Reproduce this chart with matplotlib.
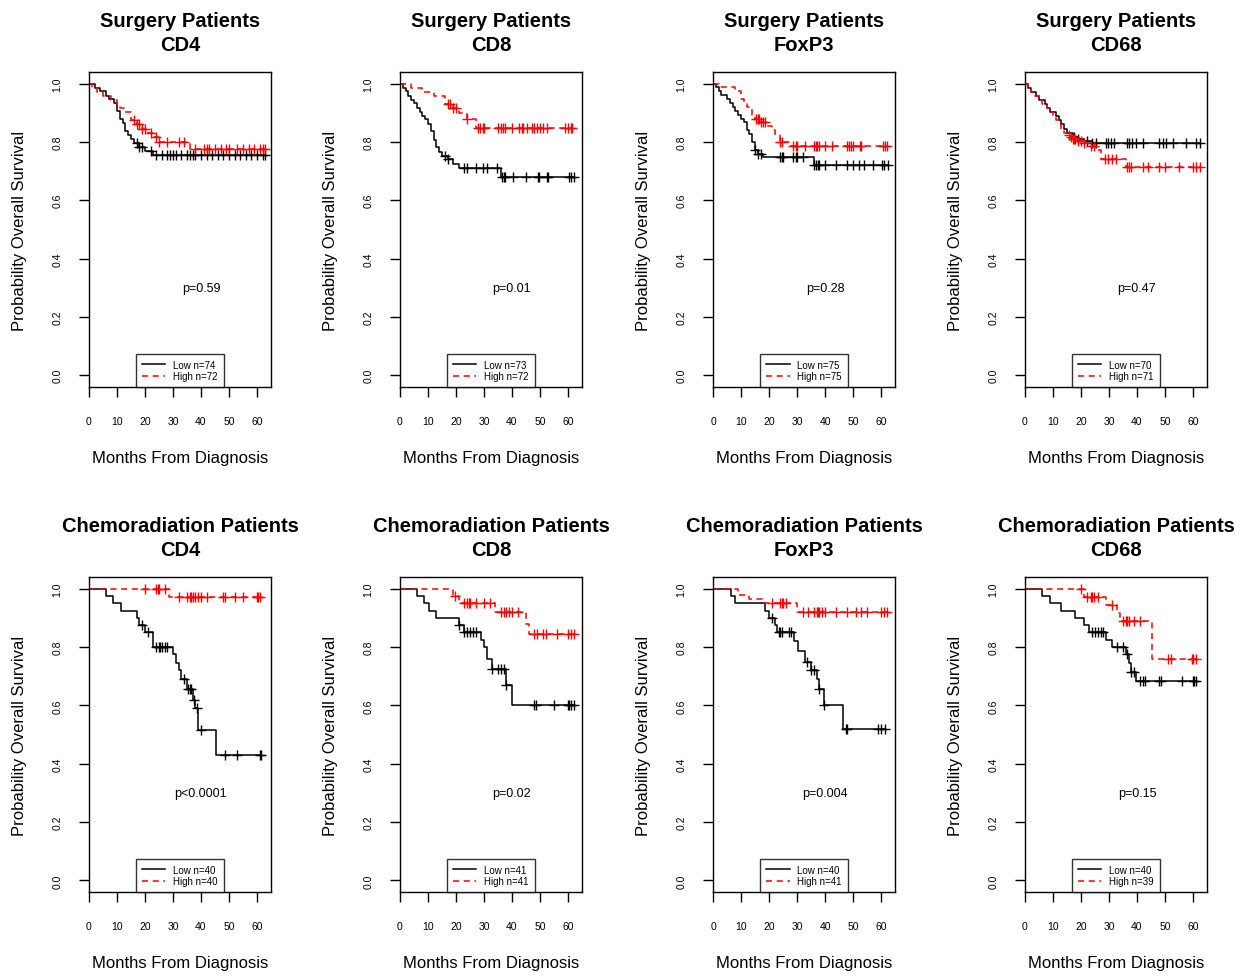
import numpy as np
import matplotlib.pyplot as plt

plt.rcParams["font.family"] = ["Liberation Sans", "DejaVu Sans"]

# ---- data (months, survival probability) ----
# Surgery CD4
s_cd4_low_t = [2, 4, 6, 7, 9, 10, 11, 12, 13, 14, 15, 16, 18, 20, 23]
s_cd4_low_s = [0.986, 0.973, 0.959, 0.946, 0.932, 0.905, 0.878, 0.865, 0.838, 0.824, 0.811, 0.797, 0.783, 0.770, 0.756]
s_cd4_low_c = [17, 18, 19, 22, 24, 26, 28, 29, 30, 31, 33, 35, 36, 37, 38, 40, 42, 44, 46, 48, 50, 52, 54, 56, 58, 60, 62, 63]
s_cd4_high_t = [1, 3, 5, 8, 10, 11, 13, 15, 17, 19, 21, 23, 25, 36]
s_cd4_high_s = [0.986, 0.972, 0.958, 0.944, 0.930, 0.916, 0.902, 0.874, 0.860, 0.846, 0.832, 0.818, 0.800, 0.776]
s_cd4_high_c = [16, 17, 18, 19, 20, 22, 24, 25, 28, 32, 34, 38, 41, 42, 43, 45, 47, 49, 50, 53, 55, 57, 59, 61, 62, 63]

# Surgery CD8
s_cd8_low_t = [1, 2, 3, 4, 5, 6, 7, 8, 9, 10, 11, 12, 13, 14, 15, 17, 19, 21, 36]
s_cd8_low_s = [0.986, 0.973, 0.959, 0.945, 0.932, 0.918, 0.904, 0.890, 0.877, 0.863, 0.836, 0.808, 0.781, 0.767, 0.753, 0.740, 0.726, 0.712, 0.680]
s_cd8_low_c = [16, 17, 23, 24, 27, 29.5, 31, 34.5, 36.5, 37, 37.5, 40.5, 45, 49.3, 49.8, 52.5, 53, 60.3, 61, 62]
s_cd8_high_t = [4, 8, 12, 16, 19, 21, 24, 27]
s_cd8_high_s = [0.986, 0.972, 0.958, 0.930, 0.915, 0.900, 0.877, 0.848]
s_cd8_high_c = [17, 17.8, 19, 20, 24, 28, 28.7, 29.5, 30, 35, 36, 36.7, 37.5, 40, 42.5, 43.5, 44, 45.5, 47, 48, 49, 50, 51, 52.5, 59, 60, 61, 61.5]

# Surgery FoxP3
s_fox_low_t = [1, 2, 3, 5, 6, 7, 8, 9, 10, 11, 12, 13, 14, 15, 16, 18, 36]
s_fox_low_s = [0.987, 0.973, 0.960, 0.947, 0.933, 0.920, 0.907, 0.893, 0.880, 0.867, 0.840, 0.827, 0.800, 0.773, 0.760, 0.747, 0.720]
s_fox_low_c = [15, 16, 17, 24, 24.5, 25, 28.5, 29.5, 30, 32, 36, 36.7, 37.3, 38, 40, 44, 48, 50, 52, 54, 57, 60.5, 61.2, 62.5]
s_fox_high_t = [2, 8, 10, 11, 12, 14, 15, 17, 19, 21, 22, 24, 27]
s_fox_high_s = [0.987, 0.973, 0.947, 0.933, 0.920, 0.893, 0.880, 0.867, 0.853, 0.840, 0.827, 0.800, 0.787]
s_fox_high_c = [15.5, 16, 16.5, 17, 18, 18.5, 24, 24.5, 28.5, 29.5, 30, 33, 36, 36.6, 37.2, 38, 40, 42.6, 48, 48.7, 49.4, 50, 52.5, 53, 60.6, 61.3, 62]

# Surgery CD68
s_c68_low_t = [1, 2, 4, 5, 7, 8, 9, 11, 12, 13, 14, 15, 17, 19, 21, 24]
s_c68_low_s = [0.986, 0.972, 0.958, 0.944, 0.930, 0.916, 0.902, 0.888, 0.874, 0.860, 0.846, 0.832, 0.818, 0.811, 0.804, 0.797]
s_c68_low_c = [17.5, 19, 22, 24, 25.2, 28.8, 29.5, 30.6, 31.8, 36.6, 37.2, 38.4, 39.6, 42, 48, 49.2, 50.4, 52.8, 57.6, 61.2, 62.4]
s_c68_high_t = [1, 2, 3, 5, 6, 8, 9, 10, 11, 12, 13, 14, 15, 16, 17, 19, 21, 23, 25, 27, 36]
s_c68_high_s = [0.986, 0.972, 0.958, 0.944, 0.930, 0.916, 0.902, 0.888, 0.874, 0.860, 0.846, 0.832, 0.825, 0.818, 0.811, 0.804, 0.797, 0.786, 0.772, 0.743, 0.715]
s_c68_high_c = [15.6, 16.3, 17, 17.5, 18, 19, 20, 21, 23.5, 24.5, 28.5, 29.5, 31, 32.5, 36.5, 37.3, 38, 42, 44, 48, 50, 55, 60, 61, 62.5]

# Chemoradiation CD4
c_cd4_low_t = [6, 8.5, 11.5, 17, 18, 20, 23, 30, 31, 32, 33, 35, 37, 38, 39, 45.5]
c_cd4_low_s = [0.975, 0.950, 0.925, 0.900, 0.875, 0.850, 0.800, 0.775, 0.745, 0.720, 0.690, 0.655, 0.620, 0.590, 0.515, 0.430]
c_cd4_low_c = [19, 21, 24, 25, 25.5, 26, 27, 28, 34, 35.5, 36, 36.5, 37.5, 38.5, 40, 48.5, 53, 61, 61.5]
c_cd4_high_t = [28.5]
c_cd4_high_s = [0.970]
c_cd4_high_c = [20, 24, 24.5, 25, 27, 32, 35, 36, 36.5, 37, 38, 39, 40, 42, 48, 48.5, 52, 55, 60, 60.5, 61]

# Chemoradiation CD8
c_cd8_low_t = [6, 8.5, 10.5, 13, 21, 23, 29, 30, 31, 33, 38, 40]
c_cd8_low_s = [0.975, 0.950, 0.925, 0.900, 0.875, 0.850, 0.825, 0.800, 0.760, 0.725, 0.670, 0.600]
c_cd8_low_c = [21, 23, 24, 25, 26, 27, 33, 35, 36, 37, 38, 48, 48.5, 55, 60, 60.5, 61, 62]
c_cd8_high_t = [19, 21, 34, 45, 46]
c_cd8_high_s = [0.975, 0.950, 0.920, 0.880, 0.845]
c_cd8_high_c = [19.5, 23, 24, 24.5, 25, 27, 30, 32, 36, 37, 38, 39, 40, 42, 48, 49, 51, 52, 56, 60, 61, 62]

# Chemoradiation FoxP3
c_fox_low_t = [6.5, 8, 18.5, 20, 22, 23, 29, 30.5, 33, 35, 37, 38, 39.5, 46.5]
c_fox_low_s = [0.975, 0.950, 0.925, 0.900, 0.875, 0.850, 0.820, 0.785, 0.750, 0.720, 0.690, 0.655, 0.600, 0.520]
c_fox_low_c = [21, 23.5, 24, 24.5, 27, 28, 33.5, 35, 36, 38, 39.5, 47.5, 48, 59, 60, 61.5]
c_fox_high_t = [9, 13, 18, 30]
c_fox_high_s = [0.980, 0.965, 0.950, 0.920]
c_fox_high_c = [21, 24, 24.5, 25, 26, 32, 34, 36, 37, 37.5, 38, 39, 40, 44, 48, 51, 53, 55, 60, 61, 62]

# Chemoradiation CD68
c_c68_low_t = [6, 9, 13, 18, 21, 23, 29, 31, 36, 37, 38, 39.5]
c_c68_low_s = [0.975, 0.950, 0.925, 0.900, 0.875, 0.850, 0.825, 0.800, 0.775, 0.745, 0.715, 0.685]
c_c68_low_c = [24, 25, 26, 27, 28, 33, 35, 36.5, 38, 39, 41, 42, 43, 48, 48.5, 56, 60, 60.5, 61]
c_c68_high_t = [21, 29, 33, 34, 45.5]
c_c68_high_s = [0.970, 0.945, 0.915, 0.890, 0.760]
c_c68_high_c = [20, 22, 23.5, 24, 24.5, 26, 31, 35, 36, 36.5, 37, 39, 41, 51, 52, 59.5, 60, 61]

titles = ["Surgery Patients\nCD4", "Surgery Patients\nCD8", "Surgery Patients\nFoxP3", "Surgery Patients\nCD68",
          "Chemoradiation Patients\nCD4", "Chemoradiation Patients\nCD8",
          "Chemoradiation Patients\nFoxP3", "Chemoradiation Patients\nCD68"]
p_values = ["p=0.59", "p=0.01", "p=0.28", "p=0.47", "p<0.0001", "p=0.02", "p=0.004", "p=0.15"]
n_low = [74, 73, 75, 70, 40, 41, 40, 40]
n_high = [72, 72, 75, 71, 40, 41, 41, 39]

low_curves = [
    (s_cd4_low_t, s_cd4_low_s, s_cd4_low_c), (s_cd8_low_t, s_cd8_low_s, s_cd8_low_c),
    (s_fox_low_t, s_fox_low_s, s_fox_low_c), (s_c68_low_t, s_c68_low_s, s_c68_low_c),
    (c_cd4_low_t, c_cd4_low_s, c_cd4_low_c), (c_cd8_low_t, c_cd8_low_s, c_cd8_low_c),
    (c_fox_low_t, c_fox_low_s, c_fox_low_c), (c_c68_low_t, c_c68_low_s, c_c68_low_c),
]
high_curves = [
    (s_cd4_high_t, s_cd4_high_s, s_cd4_high_c), (s_cd8_high_t, s_cd8_high_s, s_cd8_high_c),
    (s_fox_high_t, s_fox_high_s, s_fox_high_c), (s_c68_high_t, s_c68_high_s, s_c68_high_c),
    (c_cd4_high_t, c_cd4_high_s, c_cd4_high_c), (c_cd8_high_t, c_cd8_high_s, c_cd8_high_c),
    (c_fox_high_t, c_fox_high_s, c_fox_high_c), (c_c68_high_t, c_c68_high_s, c_c68_high_c),
]


def km_plot(ax, times, surv, cens, color, ls, label):
    """draw a KM step curve with censoring ticks"""
    t = np.concatenate(([0.0], times))
    s = np.concatenate(([1.0], surv))
    end = max(max(cens), t[-1])
    tt = np.append(t, end)
    ss = np.append(s, s[-1])
    if ls == "-":
        ax.step(tt, ss, where="post", color=color, lw=1.1, label=label)
    else:
        ax.step(tt, ss, where="post", color=color, lw=1.1, dashes=(4, 3), label=label)
    cy = s[np.searchsorted(t, cens, side="right") - 1]
    ax.plot(cens, cy, ls="none", marker="+", ms=7, mew=1.0, color=color)


fig = plt.figure(figsize=(12.51, 9.79), dpi=100)
lefts = [0.0711, 0.3197, 0.5700, 0.8193]
bottoms = [0.6037, 0.0878]
w, h = 0.1455, 0.3218

for i in range(8):
    ax = fig.add_axes([lefts[i % 4], bottoms[i // 4], w, h])
    lt, ls_, lc = low_curves[i]
    ht, hs, hc = high_curves[i]
    km_plot(ax, lt, ls_, lc, "black", "-", f"Low n={n_low[i]}")
    km_plot(ax, ht, hs, hc, "red", "--", f"High n={n_high[i]}")

    ax.set_xlim(0, 65)
    ax.set_ylim(-0.04, 1.04)
    ax.set_xticks([0, 10, 20, 30, 40, 50, 60])
    ax.set_yticks([0.0, 0.2, 0.4, 0.6, 0.8, 1.0])
    ax.set_yticklabels(["0.0", "0.2", "0.4", "0.6", "0.8", "1.0"], rotation=90, va="center")
    ax.tick_params(axis="x", direction="out", length=7, width=1, pad=14, labelsize=7.5)
    ax.tick_params(axis="y", direction="out", length=7, width=1, pad=12, labelsize=7.5)
    for sp in ax.spines.values():
        sp.set_linewidth(1.0)

    ax.set_title(titles[i], fontsize=14.5, fontweight="bold", pad=16, linespacing=1.3)
    ax.set_xlabel("Months From Diagnosis", fontsize=12)
    ax.set_ylabel("Probability Overall Survival", fontsize=12)
    ax.xaxis.set_label_coords(0.5, -0.2)
    ax.yaxis.set_label_coords(-0.34, 0.5)

    ax.text(40, 0.3, p_values[i], ha="center", va="center", fontsize=9)

    leg = ax.legend(loc="lower center", bbox_to_anchor=(0.5, 0.0), borderaxespad=0,
                    fontsize=7, frameon=True, fancybox=False, edgecolor="black",
                    handlelength=2.4, borderpad=0.6, labelspacing=0.15, handletextpad=0.8)
    leg.get_frame().set_linewidth(1.0)

fig.savefig("out.png", dpi=100)
